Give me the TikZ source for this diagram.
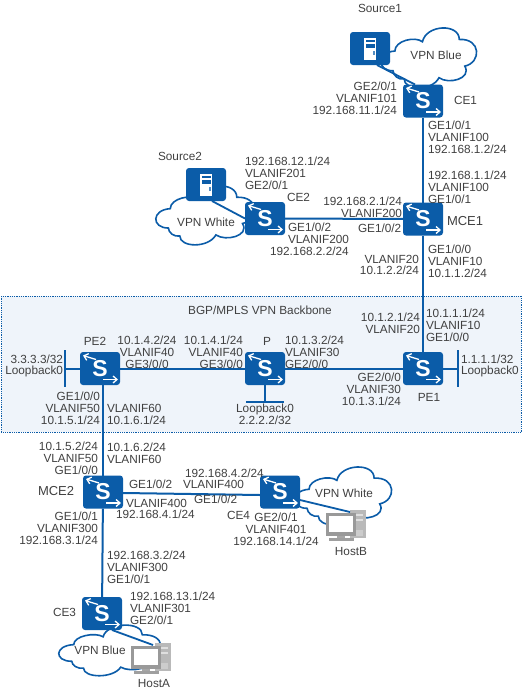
\documentclass[tikz,border=0pt]{standalone}
\usepackage{fontspec}
\setmainfont{Liberation Sans}
\usetikzlibrary{arrows.meta,calc}
\definecolor{hwblue}{HTML}{0B5CA8}
\definecolor{txt}{HTML}{404040}
\definecolor{bbfill}{HTML}{EFF4FA}
\tikzset{
  x=1pt,y=-1pt,
  lab/.style={inner sep=0pt,outer sep=0pt,text=txt,font=\fontsize{11.8}{11.8}\selectfont},
  labr/.style={lab,align=right,anchor=east},
  labl/.style={lab,align=left,anchor=west},
  labc/.style={lab,align=center,anchor=center},
  big/.style={lab,font=\fontsize{13}{13}\selectfont},
  link/.style={draw=hwblue,line width=2pt},
  thinlink/.style={draw=hwblue,line width=1.8pt},
  switchbox/.style={rectangle,rounded corners=3pt,fill=hwblue,minimum width=40pt,minimum height=33pt,inner sep=0pt,outer sep=0pt,
    text=white,font=\fontsize{23}{23}\bfseries\selectfont,
    path picture={
      \draw[sharp corners,white,line width=1.3pt,-{Straight Barb[length=4pt,width=7pt]}]
        ($(path picture bounding box.center)+(-4,-9)$) -- ($(path picture bounding box.center)+(-17,-13)$);
      \draw[sharp corners,white,line width=1.3pt,-{Straight Barb[length=4pt,width=7pt]}]
        ($(path picture bounding box.center)+(3,11)$) -- ($(path picture bounding box.center)+(18,11)$);
    }},
  serverbox/.style={rectangle,rounded corners=3pt,fill=hwblue,minimum width=40pt,minimum height=33pt,inner sep=0pt,outer sep=0pt,
    path picture={
      \coordinate (c) at (path picture bounding box.center);
      \fill[sharp corners,white] ($(c)+(-6,-11)$) rectangle ($(c)+(6,11)$);
      \fill[sharp corners,hwblue] ($(c)+(-4.5,-8.5)$) rectangle ($(c)+(4.5,-6.5)$);
      \fill[sharp corners,hwblue] ($(c)+(-4.5,-4.5)$) rectangle ($(c)+(4.5,-1)$);
      \fill[sharp corners,hwblue!70] ($(c)+(2.5,2)$) rectangle ($(c)+(4.5,6)$);
    }},
}
% cloud in a bounding box x0,y0 -- x1,y1
\newcommand{\vcloud}[4]{%
  \begin{scope}[shift={(#1,#2)},x={({(#3-#1)/100*1pt},0pt)},y={(0pt,{-(#4-#2)/100*1pt})}]
    \filldraw[draw=hwblue,line width=1.6pt,fill=white]
      (12,72) .. controls (-6,72) and (-6,40) .. (14,38)
      .. controls (14,20) and (36,12) .. (44,22)
      .. controls (48,-8) and (84,-10) .. (84,18)
      .. controls (108,16) and (108,58) .. (90,64)
      .. controls (98,86) and (72,96) .. (62,84)
      .. controls (54,108) and (24,106) .. (24,86)
      .. controls (18,88) and (12,80) .. (12,72) -- cycle;
  \end{scope}}
\newcommand{\hostpc}[2]{%
  \begin{scope}[shift={(#1,#2)}]
    \fill[gray!55] (24,-3) rectangle (40,25);
    \fill[gray!25] (27,1) rectangle (37,3);
    \fill[gray!25] (27,6) rectangle (37,8);
    \fill[white!60!gray] (30,17) rectangle (37,23);
    \fill[gray!80] (0,0) rectangle (30,23);
    \fill[white] (3,3) rectangle (27,19);
    \fill[gray!70] (11,23) rectangle (19,25);
    \fill[gray!75] (3,25) rectangle (28,28);
  \end{scope}}
\begin{document}
\begin{tikzpicture}
\useasboundingbox (0,0) rectangle (523,691);
% backbone
\node[rectangle,draw=hwblue,densely dotted,line width=0.8pt,fill=bbfill,minimum width=520pt,minimum height=136pt,inner sep=0pt,anchor=north west] (backbone) at (1,296) {};
% clouds
\vcloud{382}{29}{474}{87}
\vcloud{157}{187}{252}{244}
\vcloud{296}{468}{389}{524}
\vcloud{60}{626}{158}{675}
% devices
\node[serverbox] (src1) at (370,48.5) {};
\node[serverbox] (src2) at (206,184.5) {};
\node[switchbox] (CE1) at (423,101) {S};
\node[switchbox] (MCE1) at (423,219) {S};
\node[switchbox] (CE2) at (265,218.5) {S};
\node[switchbox] (PE2) at (100,368.5) {S};
\node[switchbox] (P) at (265,368.5) {S};
\node[switchbox] (PE1) at (423,368.5) {S};
\node[switchbox] (MCE2) at (103,492) {S};
\node[switchbox] (CE4) at (280,492) {S};
\node[switchbox] (CE3) at (102,613.5) {S};
\hostpc{326}{513}
\hostpc{131}{646}
\coordinate (hostBpt) at (350,512);
\coordinate (hostApt) at (153,645);
\coordinate (bar2t) at (65,350); \coordinate (bar2b) at (65,387);
\coordinate (bar1t) at (458,350); \coordinate (bar1b) at (458,387);
\coordinate (barPl) at (246,402); \coordinate (barPr) at (284,402);
% connectors
\draw[link] (CE1) -- (MCE1);
\draw[link] (MCE1) -- (CE2);
\draw[link] (MCE1) -- (PE1);
\draw[link] (PE1) -- (P);
\draw[link] (P) -- (PE2);
\draw[link] (MCE2.north) -- (MCE2.north |- PE2.south);
\draw[link] (MCE2) -- (CE3);
\draw[link] ($(MCE2.east)+(0,1)$) -- ($(CE4.west)+(0,3)$);
\draw[link] (PE2) -- (PE2 -| bar2t);
\draw[link] (bar2t) -- (bar2b);
\draw[link] (PE1) -- (PE1 -| bar1t);
\draw[link] (bar1t) -- (bar1b);
\draw[link] (P) -- (P |- barPl);
\draw[link] (barPl) -- (barPr);
\draw[thinlink] ($(src1.south)+(7,0)$) -- ($(CE1.north)+(-8,0)$);
\draw[thinlink] ($(src2.south)+(6,0)$) -- (CE2.west);
\draw[thinlink] ($(CE4.east)+(0,8)$) -- (hostBpt);
\draw[thinlink] ($(CE3.south)+(10,0)$) -- (hostApt);
% labels
\node[labc] (t1) at (380,8) {Source1};
\node[labc] (t2) at (436,55) {VPN Blue};
\node[labl] (t3) at (454,100) {CE1};
\node[labr] (t4) at (397,98) {GE2/0/1\\VLANIF101\\192.168.11.1/24};
\node[labl] (t5) at (428,137.5) {GE1/0/1\\VLANIF100\\192.168.1.2/24};
\node[labl] (t6) at (428,187) {192.168.1.1/24\\VLANIF100\\GE1/0/1};
\node[big,anchor=west] (t7) at (447,221) {MCE1};
\node[labr] (t8) at (402,207) {192.168.2.1/24\\VLANIF200};
\node[labl] (t9) at (358,228) {GE1/0/2};
\node[labl] (t10) at (428,261) {GE1/0/0\\VLANIF10\\10.1.1.2/24};
\node[labr] (t11) at (419,265) {VLANIF20\\10.1.2.2/24};
\node[labc] (t12) at (180,156) {Source2};
\node[labl] (t13) at (245,173) {192.168.12.1/24\\VLANIF201\\GE2/0/1};
\node[labl] (t14) at (287,197) {CE2};
\node[labl] (t15) at (288,233.5) {GE1/0/2\\VLANIF200};
\node[labl] (t16) at (270,251) {192.168.2.2/24};
\node[labc] (t17) at (206,222) {VPN White};
\node[labc] (t18) at (260,310) {BGP/MPLS VPN Backbone};
\node[labc] (t19) at (95,341) {PE2};
\node[labc] (t20) at (147,352.5) {10.1.4.2/24\\VLANIF40\\GE3/0/0};
\node[labr] (t21) at (243,352.5) {10.1.4.1/24\\VLANIF40\\GE3/0/0};
\node[labc] (t22) at (267,341) {P};
\node[labl] (t23) at (285,352.5) {10.1.3.2/24\\VLANIF30\\GE2/0/0};
\node[labr] (t24) at (63,366) {3.3.3.3/32\\Loopback0};
\node[labr] (t25) at (100,408.5) {GE1/0/0\\VLANIF50\\10.1.5.1/24};
\node[labl] (t26) at (107,414.5) {VLANIF60\\10.1.6.1/24};
\node[labc] (t27) at (265,414.5) {Loopback0\\2.2.2.2/32};
\node[labr] (t28) at (401,389.5) {GE2/0/0\\VLANIF30\\10.1.3.1/24};
\node[labc] (t29) at (429,397) {PE1};
\node[labl] (t30) at (461,366) {1.1.1.1/32\\Loopback0};
\node[labr] (t31) at (420,323.5) {10.1.2.1/24\\VLANIF20};
\node[labl] (t32) at (426,325.5) {10.1.1.1/24\\VLANIF10\\GE1/0/0};
\node[labr] (t33) at (98,458) {10.1.5.2/24\\VLANIF50\\GE1/0/0};
\node[labl] (t34) at (107,453) {10.1.6.2/24\\VLANIF60};
\node[big,anchor=west] (t35) at (38,491) {MCE2};
\node[labl] (t36) at (129,484) {GE1/0/2};
\node[labl] (t37) at (126,503) {VLANIF400};
\node[labl] (t50) at (116,514) {192.168.4.1/24};
\node[labl] (t38) at (185,473) {192.168.4.2/24};
\node[labl] (t51) at (183,484) {VLANIF400};
\node[labl] (t39) at (194,499) {GE1/0/2};
\node[labr] (t40) at (250,515) {CE4};
\node[labc] (t41) at (276,529.5) {GE2/0/1\\VLANIF401\\192.168.14.1/24};
\node[labc] (t42) at (344,493) {VPN White};
\node[labc] (t43) at (351,551) {HostB};
\node[labr] (t44) at (98,528) {GE1/0/1\\VLANIF300\\192.168.3.1/24};
\node[labl] (t45) at (107,567) {192.168.3.2/24\\VLANIF300\\GE1/0/1};
\node[labr] (t46) at (76,612) {CE3};
\node[labl] (t47) at (130,608.5) {192.168.13.1/24\\VLANIF301\\GE2/0/1};
\node[labc] (t48) at (100,650) {VPN Blue};
\node[labc] (t49) at (154,683) {HostA};
\end{tikzpicture}
\end{document}
